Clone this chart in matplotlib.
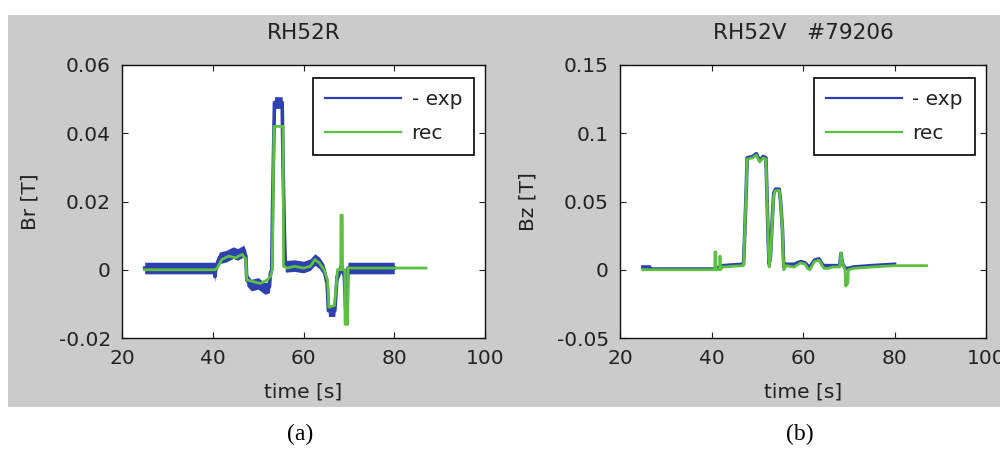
import matplotlib
matplotlib.use("Agg")
import numpy as np
import matplotlib.pyplot as plt
from matplotlib.lines import Line2D
from matplotlib.patches import Rectangle

# ── data ──────────────────────────────────────────────────────────────────────

# (a) RH52R, radial field (exp is a noisy band, drawn as centre line + band)
br_exp_t = [25, 40.4, 40.5, 40.7, 41.0, 41.5, 43, 44.5, 45.5, 46.8, 47.3, 47.5,
            48.5, 50, 51.5, 52.5, 52.7, 53.0, 53.2, 53.6, 55.3, 55.5, 55.8,
            56.0, 58, 60, 61.5, 62.5, 63.5, 64.5, 65.2, 65.5, 66.9, 67.1, 67.4,
            68.0, 68.3, 68.6, 69.0, 69.3, 69.6, 69.8, 80]
br_exp = [0.0005, 0.0005, -0.002, 0.001, 0.002, 0.0035, 0.004, 0.005, 0.0045,
          0.0055, 0.004, -0.003, -0.0045, -0.004, -0.0055, -0.005, -0.001, 0.0,
          0.02, 0.049, 0.049, 0.03, 0.01, 0.001, 0.0012, 0.0008, 0.0015, 0.003,
          0.002, 0.0, -0.004, -0.012, -0.012, -0.008, -0.002, 0.0, 0.001, 0.0,
          -0.002, -0.012, -0.012, 0.0005, 0.0005]
br_band = 0.0017  # half-width of the exp noise band

br_rec_t = [25, 40.5, 41, 42, 43.5, 45, 46.5, 47.3, 47.5, 49, 50.5, 52, 52.7,
            53.1, 53.5, 55.5, 55.6, 56.5, 58, 60, 61.5, 62.5, 63.5, 64.5, 65.3,
            65.6, 66.8, 67.2, 67.5, 68.2, 68.25, 68.55, 68.6, 69.1, 69.15, 69.75,
            69.8, 87]
br_rec = [0.0, 0.0, 0.0005, 0.003, 0.004, 0.0035, 0.0045, 0.003, -0.003,
          -0.0035, -0.004, -0.003, -0.002, 0.0, 0.042, 0.042, 0.001, 0.0005,
          0.001, 0.0005, 0.001, 0.003, 0.002, 0.0, -0.003, -0.011, -0.0105,
          -0.005, 0.0, 0.0, 0.016, 0.016, 0.0, 0.0, -0.016, -0.016, 0.0005,
          0.0005]

# (b) RH52V, vertical field
bz_rec_t = [25, 40.7, 40.75, 40.95, 41.0, 41.8, 41.85, 41.95, 42.4, 46.8, 47.0,
            47.3, 47.6, 47.8, 49.0, 49.8, 50.5, 51.3, 51.9, 52.1, 52.4, 52.6,
            52.9, 53.2, 53.6, 54.0, 54.8, 55.1, 55.5, 55.8, 56.3, 58, 59.5, 60.5,
            61.0, 61.5, 62.5, 63.5, 64.2, 64.6, 65.5, 66.5, 68.0, 68.3, 68.6,
            69.2, 69.3, 69.8, 69.9, 71, 75, 80, 83, 87]
bz_rec = [0.0, 0.0, 0.013, 0.013, 0.0, 0.0, 0.010, 0.0, 0.002, 0.003, 0.003,
          0.03, 0.06, 0.081, 0.082, 0.084, 0.079, 0.082, 0.081, 0.057, 0.02,
          0.002, 0.01, 0.03, 0.055, 0.058, 0.058, 0.05, 0.03, 0.0, 0.003, 0.002,
          0.005, 0.004, 0.001, 0.0, 0.006, 0.007, 0.003, 0.001, 0.001, 0.002,
          0.002, 0.012, 0.005, 0.0, -0.012, -0.01, 0.0, 0.001, 0.002, 0.003,
          0.003, 0.003]

bz_exp_t = [25, 26.5, 26.6, 40.7, 41.1, 42.4, 46.8, 47.0, 47.3, 47.6, 47.8,
            49.0, 49.8, 50.5, 51.3, 51.9, 52.1, 52.4, 52.6, 52.9, 53.2, 53.6,
            54.0, 54.8, 55.1, 55.5, 55.8, 56.3, 58, 59.5, 60.5, 61.0, 61.5,
            62.5, 63.5, 64.2, 64.6, 65.5, 66.5, 68.0, 68.3, 68.6, 69.2, 69.9,
            71, 75, 80]
bz_exp = [0.002, 0.002, 0.0005, 0.0005, 0.001, 0.003, 0.004, 0.004, 0.03, 0.06,
          0.082, 0.083, 0.085, 0.080, 0.083, 0.082, 0.058, 0.02, 0.004, 0.01,
          0.032, 0.056, 0.059, 0.059, 0.05, 0.03, 0.002, 0.004, 0.004, 0.006,
          0.005, 0.003, 0.002, 0.007, 0.008, 0.004, 0.003, 0.003, 0.003, 0.003,
          0.012, 0.005, 0.001, 0.001, 0.002, 0.003, 0.004]

x_ticks = [20, 40, 60, 80, 100]
panels = [
    dict(title='RH52R', ylabel='Br [T]', ylim=(-0.02, 0.06),
         yticks=[-0.02, 0, 0.02, 0.04, 0.06],
         yticklabels=['-0.02', '0', '0.02', '0.04', '0.06'],
         exp=(br_exp_t, br_exp), band=br_band, rec=(br_rec_t, br_rec),
         exp_lw=2.6, tag='(a)'),
    dict(title='RH52V   #79206', ylabel='Bz [T]', ylim=(-0.05, 0.15),
         yticks=[-0.05, 0, 0.05, 0.1, 0.15],
         yticklabels=['-0.05', '0', '0.05', '0.1', '0.15'],
         exp=(bz_exp_t, bz_exp), band=None, rec=(bz_rec_t, bz_rec),
         exp_lw=2.6, tag='(b)'),
]

BLUE = '#2e3fae'
GREEN = '#5cc040'
FIG_GRAY = '#cbcbcb'
TXT = '#222222'

plt.rcParams['font.family'] = ['DejaVu Sans']
plt.rcParams['font.size'] = 14.5

fig = plt.figure(figsize=(10, 4.51), dpi=100)
fig.patch.set_facecolor('white')
# grey MATLAB figure window behind both panels
fig.add_artist(Rectangle((0.008, 1 - 407 / 451), 0.992, (407 - 15) / 451,
                         transform=fig.transFigure, facecolor=FIG_GRAY,
                         edgecolor='none', zorder=0))

positions = [(0.122, 0.363), (0.620, 0.366)]
ax_bottom, ax_height = 1 - 338 / 451, 273 / 451

for (left, width), p in zip(positions, panels):
    ax = fig.add_axes([left, ax_bottom, width, ax_height])
    ax.set_facecolor('white')
    t_exp, y_exp = np.asarray(p['exp'][0]), np.asarray(p['exp'][1])
    if p['band'] is not None:
        ax.fill_between(t_exp, y_exp - p['band'], y_exp + p['band'],
                        color=BLUE, lw=0, zorder=2)
    ax.plot(t_exp, y_exp, color=BLUE, lw=p['exp_lw'], zorder=2)
    ax.plot(*p['rec'], color=GREEN, lw=2.0, zorder=3)

    ax.set_xlim(20, 100)
    ax.set_ylim(*p['ylim'])
    ax.set_xticks(x_ticks)
    ax.set_yticks(p['yticks'])
    ax.set_yticklabels(p['yticklabels'])
    ax.tick_params(direction='in', top=True, right=True, length=4, width=0.8,
                   colors=TXT, labelsize=14.5, pad=8)
    for s in ax.spines.values():
        s.set_linewidth(1.0)
        s.set_color('#111111')

    ax.set_title(p['title'], fontsize=15.5, color=TXT, pad=19)
    ax.set_xlabel('time [s]', fontsize=14.5, color=TXT, labelpad=10)
    ax.set_ylabel(p['ylabel'], fontsize=14.5, color=TXT, labelpad=14)

    handles = [Line2D([], [], color=BLUE, lw=1.6),
               Line2D([], [], color=GREEN, lw=1.6)]
    leg = ax.legend(handles, ['- exp', 'rec'], loc='upper right',
                    bbox_to_anchor=(0.970, 0.952), borderaxespad=0,
                    handlelength=3.8, handletextpad=0.5, labelspacing=0.75,
                    borderpad=0.6, fancybox=False, framealpha=1,
                    edgecolor='black', fontsize=14.5)
    leg.get_frame().set_linewidth(1.2)
    for t in leg.get_texts():
        t.set_color(TXT)

    fig.text(left + width / 2 - 0.003, 1 - 434 / 451, p['tag'],
             family=['Liberation Serif', 'DejaVu Serif'], fontsize=17,
             ha='center', va='center', color='black')

fig.savefig('out.png', dpi=100, facecolor='white')
